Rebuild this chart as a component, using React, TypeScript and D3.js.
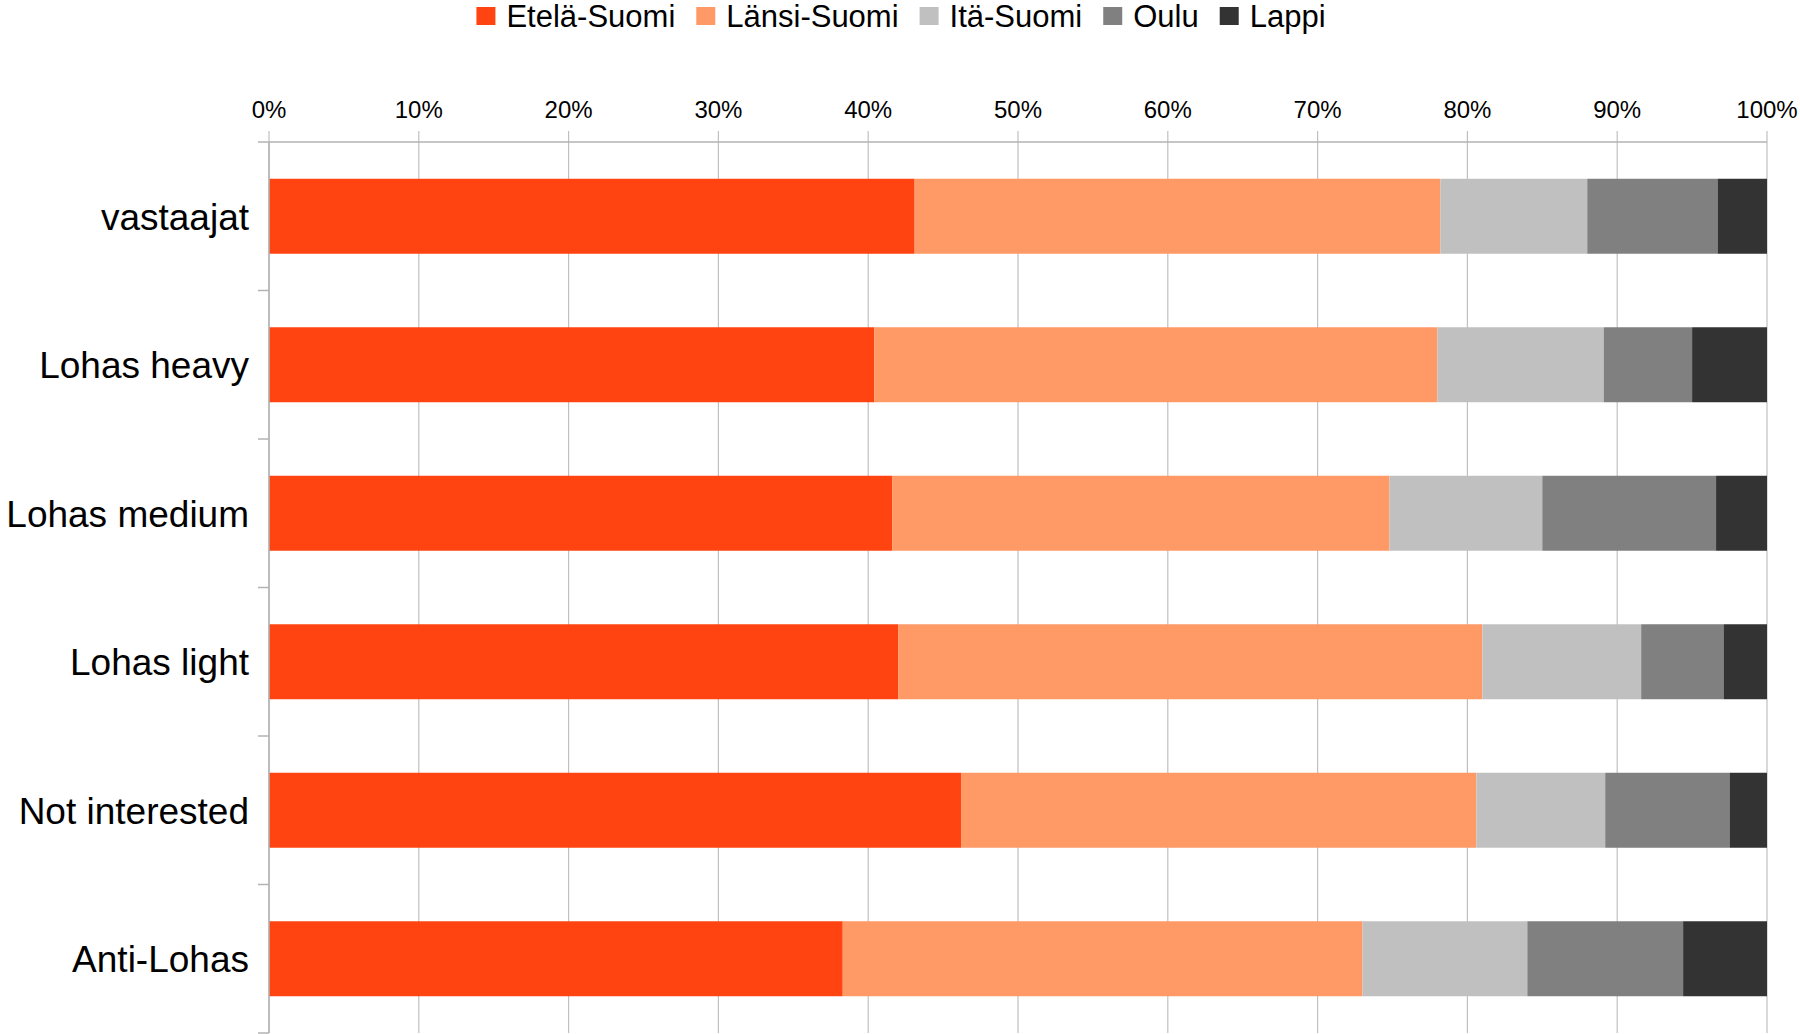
import React from "react";
import * as d3 from "d3";

const categories = ["vastaajat", "Lohas heavy", "Lohas medium", "Lohas light", "Not interested", "Anti-Lohas"];
const seriesNames = ["Etelä-Suomi", "Länsi-Suomi", "Itä-Suomi", "Oulu", "Lappi"];
const seriesColors = ["#ff4411", "#ff9966", "#c0c0c0", "#808080", "#333333"];
const etela = [43.1, 40.4, 41.6, 42.0, 46.2, 38.3];
const lansi = [35.1, 37.6, 33.2, 39.0, 34.4, 34.7];
const ita = [9.8, 11.1, 10.2, 10.6, 8.6, 11.0];
const oulu = [8.7, 5.9, 11.6, 5.5, 8.3, 10.4];
const lappi = [3.3, 5.0, 3.4, 2.9, 2.5, 5.6];
const xTicks = [0, 0.1, 0.2, 0.3, 0.4, 0.5, 0.6, 0.7, 0.8, 0.9, 1.0];

const W = 1800;
const H = 1034;
const FONT = "'Liberation Sans', Arial, sans-serif";

function measure(text: string, size: number): number {
  if (typeof document === "undefined") return text.length * size * 0.55;
  const c = document.createElement("canvas");
  const ctx = c.getContext("2d");
  if (!ctx) return text.length * size * 0.55;
  ctx.font = `${size}px 'Liberation Sans', Arial, sans-serif`;
  return ctx.measureText(text).width;
}

export default function App() {
  const left = 269;
  const right = 1767;
  const top = 142;
  const bottom = 1033;

  const rows = categories.map((c, i) => ({
    cat: c,
    [seriesNames[0]]: etela[i],
    [seriesNames[1]]: lansi[i],
    [seriesNames[2]]: ita[i],
    [seriesNames[3]]: oulu[i],
    [seriesNames[4]]: lappi[i],
  }));

  const stack = d3.stack<any>().keys(seriesNames).offset(d3.stackOffsetExpand);
  const layers = stack(rows as any);

  const x = d3.scaleLinear().domain([0, 1]).range([left, right]);
  const y = d3
    .scaleBand<string>()
    .domain(categories)
    .range([top, bottom])
    .paddingInner(0.495)
    .paddingOuter(0.2475);
  const step = y.step();
  const boundaries = d3.range(categories.length + 1).map((i) => top + i * step);

  // legend layout
  const legendFont = 31;
  const sq = 19;
  const sqGap = 11;
  const itemGap = 21;
  const widths = seriesNames.map((s) => measure(s, legendFont));
  const itemWidths = widths.map((w) => sq + sqGap + w);
  const total = d3.sum(itemWidths) + itemGap * (seriesNames.length - 1);
  let cursor = 901 - total / 2;
  const legendItems = seriesNames.map((s, i) => {
    const x0 = cursor;
    cursor += itemWidths[i] + itemGap;
    return { name: s, color: seriesColors[i], x0 };
  });

  return (
    <svg
      width={W}
      height={H}
      style={{ position: "absolute", left: 0, top: 0, background: "#fff" }}
      fontFamily={FONT}
    >
      <rect x={0} y={0} width={W} height={H} fill="#fff" />
      {/* legend */}
      {legendItems.map((it) => (
        <g key={it.name}>
          <rect x={it.x0} y={7} width={sq} height={18} fill={it.color} />
          <text x={it.x0 + sq + sqGap} y={27} fontSize={legendFont} fill="#000">
            {it.name}
          </text>
        </g>
      ))}
      {/* gridlines and x ticks */}
      {xTicks.map((t) => (
        <g key={t}>
          <line x1={x(t)} x2={x(t)} y1={131} y2={bottom} stroke="#c0c0c0" strokeWidth={1.2} />
          <text x={x(t)} y={118} fontSize={24} textAnchor="middle" fill="#000">
            {d3.format(".0%")(t)}
          </text>
        </g>
      ))}
      {/* bars */}
      {layers.map((layer, li) => (
        <g key={layer.key} fill={seriesColors[li]}>
          {layer.map((d, i) => (
            <rect
              key={i}
              x={x(d[0])}
              width={x(d[1]) - x(d[0])}
              y={y(categories[i])}
              height={y.bandwidth()}
            />
          ))}
        </g>
      ))}
      {/* axes */}
      <line x1={left} x2={right} y1={top} y2={top} stroke="#b3b3b3" strokeWidth={1.5} />
      <line x1={left} x2={left} y1={top} y2={bottom} stroke="#b3b3b3" strokeWidth={1.5} />
      {boundaries.map((b, i) => (
        <line key={i} x1={258} x2={left} y1={b} y2={b} stroke="#b3b3b3" strokeWidth={1.5} />
      ))}
      {categories.map((c) => (
        <text
          key={c}
          x={249}
          y={(y(c) as number) + y.bandwidth() / 2}
          dy="0.36em"
          fontSize={37}
          textAnchor="end"
          fill="#000"
        >
          {c}
        </text>
      ))}
    </svg>
  );
}
